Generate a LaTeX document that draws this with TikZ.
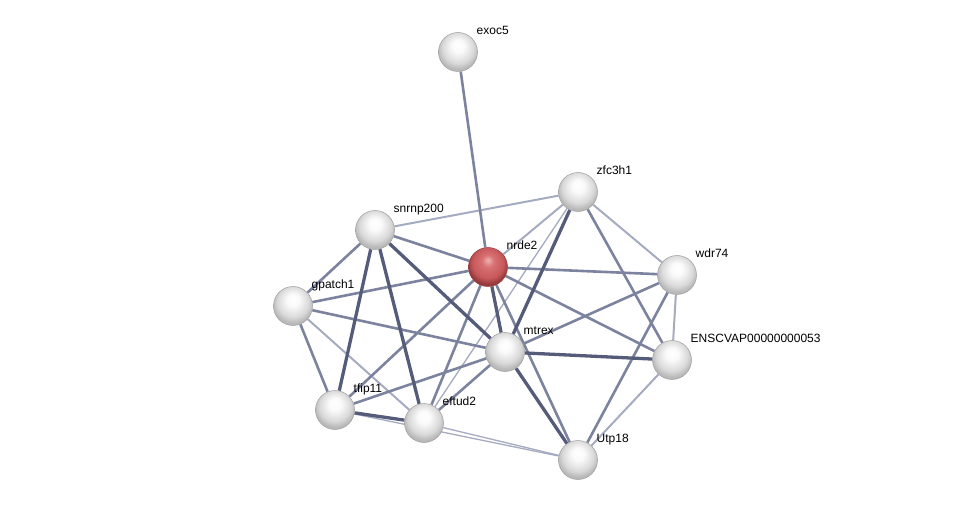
\documentclass[tikz,border=0pt]{standalone}
\usepackage{fontspec}
\setmainfont{Liberation Sans}
\usetikzlibrary{backgrounds}
\definecolor{edgestrong}{RGB}{84,92,122}
\definecolor{edgemid}{RGB}{124,131,158}
\definecolor{edgeweak}{RGB}{165,171,192}
\definecolor{redtop}{RGB}{238,178,178}
\definecolor{redmid}{RGB}{216,112,114}
\definecolor{redlow}{RGB}{198,88,90}
\definecolor{redrim}{RGB}{150,58,60}
\pgfdeclareradialshading{sphere}{\pgfpoint{0bp}{9bp}}{color(0bp)=(white); color(8bp)=(white!96!gray); color(20bp)=(gray!30); color(26bp)=(gray!55); color(50bp)=(gray!60)}
\pgfdeclareradialshading{redsphere}{\pgfpoint{0bp}{9bp}}{color(0bp)=(redtop); color(8bp)=(redmid); color(20bp)=(redlow); color(26bp)=(redrim); color(50bp)=(redrim)}
\tikzset{
  protein/.style={circle, minimum size=39pt, inner sep=0pt, shading=sphere, draw=gray!75, line width=0.5pt},
  query/.style={protein, shading=redsphere, draw=redrim},
  lbl/.style={font=\fontsize{12}{14}\selectfont, inner sep=1pt, anchor=base west, label distance=5pt},
  strong/.style={draw=edgestrong, line width=3.3pt},
  mid/.style={draw=edgemid, line width=2.6pt},
  weak/.style={draw=edgeweak, line width=2pt},
  faint/.style={draw=edgeweak, line width=1.3pt}
}

\begin{document}
\begin{tikzpicture}[x=1pt, y=-1pt]
  \useasboundingbox (0,0) rectangle (975,505);
  % proteins
  \node[protein, label={[lbl]45:exoc5}] (exoc5) at (458,52) {};
  \node[protein, label={[lbl]45:zfc3h1}] (zfc3h1) at (578,192) {};
  \node[protein, label={[lbl]45:snrnp200}] (snrnp200) at (375,230) {};
  \node[query, label={[lbl]45:nrde2}] (nrde2) at (488,267) {};
  \node[protein, label={[lbl]45:wdr74}] (wdr74) at (677,275) {};
  \node[protein, label={[lbl]45:gpatch1}] (gpatch1) at (293,306) {};
  \node[protein, label={[lbl]45:mtrex}] (mtrex) at (505,352) {};
  \node[protein, label={[lbl]45:ENSCVAP00000000053}] (enscvap) at (672,360) {};
  \node[protein, label={[lbl]45:tfip11}] (tfip11) at (335,410) {};
  \node[protein, label={[lbl]45:eftud2}] (eftud2) at (424,423) {};
  \node[protein, label={[lbl]45:Utp18}] (utp18) at (578,460) {};
  % interactions, behind the proteins
  \begin{pgfonlayer}{background}
    \draw[weak] (snrnp200) -- (zfc3h1);
    \draw[weak] (gpatch1) -- (eftud2);
    \draw[weak] (nrde2) -- (zfc3h1);
    \draw[weak] (zfc3h1) -- (wdr74);
    \draw[faint] (zfc3h1) -- (eftud2);
    \draw[weak] (wdr74) -- (enscvap);
    \draw[weak] (enscvap) -- (utp18);
    \draw[faint] (tfip11) -- (utp18);
    \draw[faint] (eftud2) -- (utp18);
    \draw[mid] (exoc5) -- (nrde2);
    \draw[mid] (snrnp200) -- (nrde2);
    \draw[mid] (snrnp200) -- (gpatch1);
    \draw[mid] (gpatch1) -- (nrde2);
    \draw[mid] (gpatch1) -- (mtrex);
    \draw[mid] (gpatch1) -- (tfip11);
    \draw[mid] (nrde2) -- (tfip11);
    \draw[mid] (nrde2) -- (eftud2);
    \draw[mid] (nrde2) -- (wdr74);
    \draw[mid] (nrde2) -- (enscvap);
    \draw[mid] (nrde2) -- (utp18);
    \draw[mid] (zfc3h1) -- (enscvap);
    \draw[mid] (wdr74) -- (mtrex);
    \draw[mid] (wdr74) -- (utp18);
    \draw[mid] (mtrex) -- (tfip11);
    \draw[mid] (mtrex) -- (eftud2);
    \draw[strong] (snrnp200) -- (tfip11);
    \draw[strong] (snrnp200) -- (eftud2);
    \draw[strong] (snrnp200) -- (mtrex);
    \draw[strong] (zfc3h1) -- (mtrex);
    \draw[strong] (nrde2) -- (mtrex);
    \draw[strong] (mtrex) -- (enscvap);
    \draw[strong] (mtrex) -- (utp18);
    \draw[strong] (tfip11) -- (eftud2);
  \end{pgfonlayer}
\end{tikzpicture}
\end{document}
